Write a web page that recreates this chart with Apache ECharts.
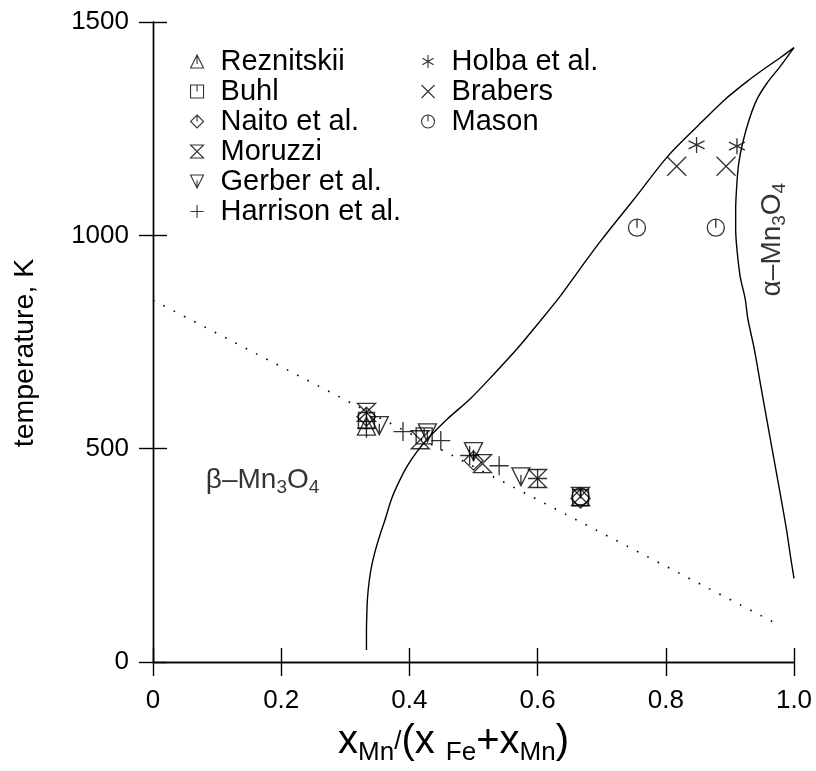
<!DOCTYPE html>
<html>
<head>
<meta charset="utf-8">
<script src="https://cdn.jsdelivr.net/npm/echarts@6/dist/echarts.min.js"></script>
<style>
  html, body { margin: 0; padding: 0; background: #fff; }
  #chart { width: 816px; height: 771px; }
</style>
</head>
<body>
<div id="chart"></div>
<script>
const FONT = '"Liberation Sans", Arial, Helvetica, sans-serif';

// Axis tick labels
const xTickLabels = ['0', '0.2', '0.4', '0.6', '0.8', '1.0'];
const yTickLabels = ['0', '500', '1000', '1500'];

// Measured Curie temperatures, [x_Mn/(x_Fe+x_Mn), T / K]
const reznitskii = [[0.333, 553]];
const buhl       = [[0.333, 566], [0.423, 530], [0.667, 385]];
const naito      = [[0.333, 575], [0.500, 472], [0.667, 383]];
const moruzzi    = [[0.333, 585], [0.417, 521], [0.514, 465], [0.600, 430], [0.667, 388]];
const gerber     = [[0.353, 554], [0.428, 537], [0.500, 493], [0.574, 434]];
const harrison   = [[0.333, 548], [0.390, 540], [0.449, 519], [0.494, 484], [0.540, 460], [0.600, 430]];
const holba      = [[0.848, 1212], [0.911, 1209]];
const brabers    = [[0.817, 1162], [0.894, 1162]];
const mason      = [[0.755, 1018], [0.878, 1018], [0.667, 388]];

// Calculated phase boundaries
const spinelBoundary = [
  [0.3330, 28], [0.3330, 70], [0.3333, 98], [0.3346, 149], [0.3374, 191], [0.3412, 226],
  [0.3468, 261], [0.3537, 296], [0.3615, 331], [0.3724, 383], [0.3846, 425], [0.3970, 460],
  [0.4127, 495], [0.4314, 528], [0.4580, 568], [0.4950, 617], [0.5320, 675], [0.5680, 734],
  [0.6040, 799], [0.6350, 857], [0.6660, 921], [0.6970, 984], [0.7500, 1084], [0.8030, 1185],
  [0.8490, 1255], [0.8920, 1318], [0.9280, 1362], [0.9580, 1395], [0.9800, 1418], [1.0000, 1440]
];
const alphaBoundary = [
  [1.000, 1440], [0.978, 1395], [0.958, 1357], [0.942, 1318], [0.930, 1271], [0.920, 1217],
  [0.914, 1171], [0.911, 1124], [0.909, 1061], [0.909, 1014], [0.911, 967], [0.916, 904],
  [0.924, 850], [0.928, 804], [0.938, 734], [0.949, 640], [0.963, 523], [0.977, 407],
  [0.988, 313], [0.995, 243], [1.000, 196]
];
// Calculated Curie temperature line
const curieLine = [[0.000, 848], [0.970, 92]];

// Phase-field label anchors
const betaLabelAt  = [0.171, 425];
const alphaLabelAt = [0.966, 990];

const names = ['Reznitskii', 'Buhl', 'Naito et al.', 'Moruzzi', 'Gerber et al.', 'Harrison et al.',
               'Holba et al.', 'Brabers', 'Mason'];

// Open marker outlines
const SYM = {
  triUp:    'path://M0 10L5 0L10 10Z M5 0V7',
  square:   'path://M0 0H10V10H0Z M5 0V5',
  diamond:  'path://M5 0L10 5L5 10L0 5Z M5 0V5',
  hourglass:'path://M0 0H10L0 10H10Z',
  triDown:  'path://M0 0H10L5 10Z M5 4V10',
  plus:     'path://M0 5H10M5 0V10',
  star:     'path://M5 0V10M0.67 2.5L9.33 7.5M0.67 7.5L9.33 2.5',
  cross:    'path://M0 0L10 10M10 0L0 10',
  circle:   'path://M0 5A5 5 0 1 1 10 5A5 5 0 1 1 0 5Z M5 0V5'
};

const pointSets = [reznitskii, buhl, naito, moruzzi, gerber, harrison, holba, brabers, mason];
const symbols = [SYM.triUp, SYM.square, SYM.diamond, SYM.hourglass, SYM.triDown, SYM.plus,
                 SYM.star, SYM.cross, SYM.circle];
const sizes = [18, 16, 19, 18, 18, 19, 16, 19, 17];

const markerStyle = { color: 'rgba(0,0,0,0)', borderColor: '#000', borderWidth: 1.35 };

const scatterSeries = pointSets.map((d, i) => ({
  type: 'scatter',
  name: names[i],
  data: d,
  symbol: symbols[i],
  symbolSize: sizes[i],
  itemStyle: markerStyle,
  z: 5
}));

const lineStyleSolid = { color: '#000', width: 1.4 };

const subRich = {
  g: { fontSize: 28, fontFamily: FONT, color: '#000', lineHeight: 34, verticalAlign: 'middle' },
  s: { fontSize: 19, fontFamily: FONT, color: '#000', lineHeight: 12, verticalAlign: 'bottom' }
};

const legendCommon = {
  orient: 'vertical',
  padding: 0,
  itemWidth: 13,
  itemHeight: 13,
  itemGap: 1,
  selectedMode: false,
  itemStyle: { color: 'rgba(0,0,0,0)', borderColor: '#000', borderWidth: 1.1 },
  textStyle: { fontSize: 29, fontFamily: FONT, color: '#000', padding: [0, 0, 0, 12] }
};

const axisLineStyle = { color: '#000', width: 1.4 };

const option = {
  animation: false,
  backgroundColor: '#fff',
  grid: { left: 153, top: 22, width: 641, height: 642, containLabel: false },
  legend: [
    Object.assign({ data: names.slice(0, 6), left: 190, top: 47 }, legendCommon),
    Object.assign({ data: names.slice(6), left: 421, top: 47 }, legendCommon)
  ],
  xAxis: [
    {
      type: 'value', min: 0, max: 1, interval: 0.2, position: 'bottom',
      axisLine: { show: true, lineStyle: axisLineStyle },
      axisTick: { show: true, inside: false, length: 14, lineStyle: axisLineStyle },
      splitLine: { show: false },
      axisLabel: {
        margin: 26, fontSize: 26, fontFamily: FONT, color: '#000',
        formatter: v => xTickLabels[Math.round(v / 0.2)]
      },
      name: '{b|x}{s|Mn}{sl|/}{b|(x }{f|Fe}{b|+x}{s|Mn}{b|)}',
      nameLocation: 'middle',
      nameGap: 56,
      nameTextStyle: {
        padding: [0, 40, 0, 0],
        rich: {
          b:  { fontSize: 40, fontFamily: FONT, color: '#000', lineHeight: 48, verticalAlign: 'middle' },
          s:  { fontSize: 26, fontFamily: FONT, color: '#000', lineHeight: 16, verticalAlign: 'bottom' },
          f:  { fontSize: 26, fontFamily: FONT, color: '#000', lineHeight: 27, verticalAlign: 'bottom' },
          sl: { fontSize: 26, fontFamily: FONT, color: '#000', lineHeight: 48, verticalAlign: 'middle' }
        }
      }
    },
    {
      type: 'value', min: 0, max: 1, interval: 0.2, position: 'top',
      axisLine: { show: true, lineStyle: axisLineStyle },
      axisTick: { show: true, inside: false, length: 14, lineStyle: axisLineStyle },
      splitLine: { show: false },
      axisLabel: { show: false }
    }
  ],
  yAxis: [
    {
      type: 'value', min: 0, max: 1500, interval: 500, position: 'left',
      axisLine: { show: true, lineStyle: axisLineStyle },
      axisTick: { show: true, inside: false, length: 14, lineStyle: axisLineStyle },
      splitLine: { show: false },
      axisLabel: {
        margin: 24, fontSize: 26, fontFamily: FONT, color: '#000',
        formatter: v => yTickLabels[Math.round(v / 500)]
      },
      name: 'temperature, K',
      nameLocation: 'middle',
      nameRotate: 90,
      nameGap: 113,
      nameTextStyle: { fontSize: 28.5, fontFamily: FONT, color: '#000', padding: [0, 22, 0, 0] }
    },
    {
      type: 'value', min: 0, max: 1500, interval: 500, position: 'right',
      axisLine: { show: true, lineStyle: axisLineStyle },
      axisTick: { show: true, inside: false, length: 14, lineStyle: axisLineStyle },
      splitLine: { show: false },
      axisLabel: { show: false }
    }
  ],
  series: [
    {
      type: 'line', data: curieLine, showSymbol: false, symbol: 'none', silent: true,
      lineStyle: { color: '#000', width: 1.6, type: [1.6, 10] }, z: 2
    },
    {
      type: 'line', data: spinelBoundary, showSymbol: false, symbol: 'none', smooth: 0.3,
      silent: true, lineStyle: lineStyleSolid, z: 3
    },
    {
      type: 'line', data: alphaBoundary, showSymbol: false, symbol: 'none', smooth: 0.3,
      silent: true, lineStyle: lineStyleSolid, z: 3
    },
    {
      type: 'scatter', silent: true, symbolSize: 0, z: 6,
      data: [betaLabelAt],
      label: {
        show: true, position: 'inside', align: 'center', verticalAlign: 'middle',
        formatter: '{g|β–Mn}{s|3}{g|O}{s|4}', rich: subRich
      }
    },
    {
      type: 'scatter', silent: true, symbolSize: 0, z: 6,
      data: [alphaLabelAt],
      label: {
        show: true, position: 'inside', align: 'center', verticalAlign: 'middle', rotate: 90,
        formatter: '{g|α–Mn}{s|3}{g|O}{s|4}', rich: subRich
      }
    }
  ].concat(scatterSeries)
};

const chart = echarts.init(document.getElementById('chart'), null, { renderer: 'canvas' });
chart.setOption(option);
</script>
</body>
</html>
